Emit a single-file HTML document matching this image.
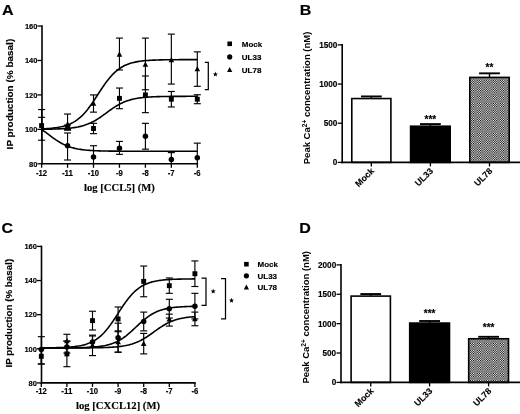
<!DOCTYPE html>
<html><head><meta charset="utf-8"><title>Figure</title>
<style>html,body{margin:0;padding:0;background:#fff;}svg{display:block;filter:blur(0.35px)}</style></head>
<body><svg width="520" height="414" viewBox="0 0 520 414">
<rect width="520" height="414" fill="#fff"/>
<line x1="42.00" y1="25.24" x2="42.00" y2="164.60" stroke="#000" stroke-width="1.6"/>
<line x1="41.20" y1="163.80" x2="198.10" y2="163.80" stroke="#000" stroke-width="1.6"/>
<line x1="37.50" y1="163.80" x2="42.00" y2="163.80" stroke="#000" stroke-width="1.3"/>
<text x="37.40" y="166.55" font-family="Liberation Sans, sans-serif" font-size="7.5" font-weight="bold" text-anchor="end" stroke="#000" stroke-width="0.15" >80</text>
<line x1="37.50" y1="129.36" x2="42.00" y2="129.36" stroke="#000" stroke-width="1.3"/>
<text x="37.40" y="132.11" font-family="Liberation Sans, sans-serif" font-size="7.5" font-weight="bold" text-anchor="end" stroke="#000" stroke-width="0.15" >100</text>
<line x1="37.50" y1="94.92" x2="42.00" y2="94.92" stroke="#000" stroke-width="1.3"/>
<text x="37.40" y="97.67" font-family="Liberation Sans, sans-serif" font-size="7.5" font-weight="bold" text-anchor="end" stroke="#000" stroke-width="0.15" >120</text>
<line x1="37.50" y1="60.48" x2="42.00" y2="60.48" stroke="#000" stroke-width="1.3"/>
<text x="37.40" y="63.23" font-family="Liberation Sans, sans-serif" font-size="7.5" font-weight="bold" text-anchor="end" stroke="#000" stroke-width="0.15" >140</text>
<line x1="37.50" y1="26.04" x2="42.00" y2="26.04" stroke="#000" stroke-width="1.3"/>
<text x="37.40" y="28.79" font-family="Liberation Sans, sans-serif" font-size="7.5" font-weight="bold" text-anchor="end" stroke="#000" stroke-width="0.15" >160</text>
<line x1="41.60" y1="163.80" x2="41.60" y2="167.80" stroke="#000" stroke-width="1.3"/>
<text x="41.50" y="175.80" font-family="Liberation Sans, sans-serif" font-size="8.3" font-weight="bold" text-anchor="middle" stroke="#000" stroke-width="0.15" textLength="11.13" lengthAdjust="spacingAndGlyphs">-12</text>
<line x1="67.55" y1="163.80" x2="67.55" y2="167.80" stroke="#000" stroke-width="1.3"/>
<text x="67.45" y="175.80" font-family="Liberation Sans, sans-serif" font-size="8.3" font-weight="bold" text-anchor="middle" stroke="#000" stroke-width="0.15" textLength="11.13" lengthAdjust="spacingAndGlyphs">-11</text>
<line x1="93.50" y1="163.80" x2="93.50" y2="167.80" stroke="#000" stroke-width="1.3"/>
<text x="93.40" y="175.80" font-family="Liberation Sans, sans-serif" font-size="8.3" font-weight="bold" text-anchor="middle" stroke="#000" stroke-width="0.15" textLength="11.13" lengthAdjust="spacingAndGlyphs">-10</text>
<line x1="119.45" y1="163.80" x2="119.45" y2="167.80" stroke="#000" stroke-width="1.3"/>
<text x="119.35" y="175.80" font-family="Liberation Sans, sans-serif" font-size="8.3" font-weight="bold" text-anchor="middle" stroke="#000" stroke-width="0.15" textLength="6.85" lengthAdjust="spacingAndGlyphs">-9</text>
<line x1="145.40" y1="163.80" x2="145.40" y2="167.80" stroke="#000" stroke-width="1.3"/>
<text x="145.30" y="175.80" font-family="Liberation Sans, sans-serif" font-size="8.3" font-weight="bold" text-anchor="middle" stroke="#000" stroke-width="0.15" textLength="6.85" lengthAdjust="spacingAndGlyphs">-8</text>
<line x1="171.35" y1="163.80" x2="171.35" y2="167.80" stroke="#000" stroke-width="1.3"/>
<text x="171.25" y="175.80" font-family="Liberation Sans, sans-serif" font-size="8.3" font-weight="bold" text-anchor="middle" stroke="#000" stroke-width="0.15" textLength="6.85" lengthAdjust="spacingAndGlyphs">-7</text>
<line x1="197.30" y1="163.80" x2="197.30" y2="167.80" stroke="#000" stroke-width="1.3"/>
<text x="197.20" y="175.80" font-family="Liberation Sans, sans-serif" font-size="8.3" font-weight="bold" text-anchor="middle" stroke="#000" stroke-width="0.15" textLength="6.85" lengthAdjust="spacingAndGlyphs">-6</text>
<text x="119.50" y="191.00" font-family="Liberation Serif, serif" font-size="11.2" font-weight="bold" text-anchor="middle" stroke="#000" stroke-width="0.15" textLength="70.8" lengthAdjust="spacingAndGlyphs">log [CCL5] (M)</text>
<text x="12.90" y="94.10" font-family="Liberation Sans, sans-serif" font-size="9.8" font-weight="bold" text-anchor="middle" transform="rotate(-90 12.90 94.10)" stroke="#000" stroke-width="0.15" textLength="110.6" lengthAdjust="spacingAndGlyphs">IP production (% basal)</text>
<text x="2.00" y="15.20" font-family="Liberation Sans, sans-serif" font-size="14.5" font-weight="bold" text-anchor="start" stroke="#000" stroke-width="0.15" textLength="11.6" lengthAdjust="spacingAndGlyphs">A</text>
<polyline points="41.60,129.26 42.90,129.24 44.19,129.23 45.49,129.21 46.79,129.20 48.09,129.18 49.39,129.15 50.68,129.13 51.98,129.10 53.28,129.07 54.58,129.03 55.87,128.99 57.17,128.95 58.47,128.90 59.76,128.84 61.06,128.78 62.36,128.71 63.66,128.64 64.96,128.55 66.25,128.45 67.55,128.35 68.85,128.23 70.14,128.09 71.44,127.95 72.74,127.78 74.04,127.60 75.34,127.40 76.63,127.17 77.93,126.93 79.23,126.65 80.53,126.35 81.82,126.02 83.12,125.66 84.42,125.27 85.71,124.84 87.01,124.37 88.31,123.86 89.61,123.31 90.91,122.72 92.20,122.09 93.50,121.42 94.80,120.70 96.09,119.95 97.39,119.15 98.69,118.32 99.99,117.46 101.29,116.57 102.58,115.66 103.88,114.72 105.18,113.78 106.47,112.83 107.77,111.88 109.07,110.93 110.37,110.00 111.66,109.09 112.96,108.20 114.26,107.34 115.56,106.51 116.86,105.71 118.15,104.96 119.45,104.24 120.75,103.57 122.04,102.94 123.34,102.35 124.64,101.80 125.94,101.29 127.24,100.82 128.53,100.39 129.83,99.99 131.13,99.63 132.43,99.30 133.72,99.00 135.02,98.73 136.32,98.48 137.61,98.26 138.91,98.06 140.21,97.88 141.51,97.71 142.81,97.56 144.10,97.43 145.40,97.31 146.70,97.20 147.99,97.11 149.29,97.02 150.59,96.94 151.89,96.88 153.19,96.81 154.48,96.76 155.78,96.71 157.08,96.66 158.38,96.62 159.67,96.59 160.97,96.56 162.27,96.53 163.56,96.50 164.86,96.48 166.16,96.46 167.46,96.44 168.75,96.43 170.05,96.41 171.35,96.40 172.65,96.39 173.94,96.38 175.24,96.37 176.54,96.36 177.84,96.36 179.13,96.35 180.43,96.34 181.73,96.34 183.03,96.33 184.32,96.33 185.62,96.33 186.92,96.32 188.22,96.32 189.51,96.32 190.81,96.32 192.11,96.31 193.41,96.31 194.71,96.31 196.00,96.31 197.30,96.31" fill="none" stroke="#000" stroke-width="1.6" stroke-linejoin="round"/>
<polyline points="41.60,129.41 42.90,130.32 44.19,131.27 45.49,132.23 46.79,133.20 48.09,134.18 49.39,135.16 50.68,136.14 51.98,137.10 53.28,138.04 54.58,138.96 55.87,139.85 57.17,140.70 58.47,141.52 59.76,142.30 61.06,143.04 62.36,143.73 63.66,144.38 64.96,144.99 66.25,145.56 67.55,146.08 68.85,146.56 70.14,147.01 71.44,147.42 72.74,147.79 74.04,148.13 75.34,148.44 76.63,148.72 77.93,148.98 79.23,149.21 80.53,149.41 81.82,149.60 83.12,149.77 84.42,149.92 85.71,150.06 87.01,150.18 88.31,150.29 89.61,150.39 90.91,150.48 92.20,150.56 93.50,150.63 94.80,150.70 96.09,150.75 97.39,150.81 98.69,150.85 99.99,150.89 101.29,150.93 102.58,150.96 103.88,150.99 105.18,151.02 106.47,151.04 107.77,151.06 109.07,151.08 110.37,151.09 111.66,151.11 112.96,151.12 114.26,151.13 115.56,151.14 116.86,151.15 118.15,151.16 119.45,151.17 120.75,151.18 122.04,151.18 123.34,151.19 124.64,151.19 125.94,151.20 127.24,151.20 128.53,151.20 129.83,151.21 131.13,151.21 132.43,151.21 133.72,151.21 135.02,151.21 136.32,151.22 137.61,151.22 138.91,151.22 140.21,151.22 141.51,151.22 142.81,151.22 144.10,151.22 145.40,151.22 146.70,151.22 147.99,151.22 149.29,151.23 150.59,151.23 151.89,151.23 153.19,151.23 154.48,151.23 155.78,151.23 157.08,151.23 158.38,151.23 159.67,151.23 160.97,151.23 162.27,151.23 163.56,151.23 164.86,151.23 166.16,151.23 167.46,151.23 168.75,151.23 170.05,151.23 171.35,151.23 172.65,151.23 173.94,151.23 175.24,151.23 176.54,151.23 177.84,151.23 179.13,151.23 180.43,151.23 181.73,151.23 183.03,151.23 184.32,151.23 185.62,151.23 186.92,151.23 188.22,151.23 189.51,151.23 190.81,151.23 192.11,151.23 193.41,151.23 194.71,151.23 196.00,151.23 197.30,151.23" fill="none" stroke="#000" stroke-width="1.6" stroke-linejoin="round"/>
<polyline points="41.60,128.89 42.90,128.83 44.19,128.77 45.49,128.70 46.79,128.62 48.09,128.53 49.39,128.43 50.68,128.32 51.98,128.20 53.28,128.06 54.58,127.90 55.87,127.73 57.17,127.53 58.47,127.32 59.76,127.07 61.06,126.81 62.36,126.51 63.66,126.17 64.96,125.81 66.25,125.40 67.55,124.94 68.85,124.44 70.14,123.89 71.44,123.28 72.74,122.61 74.04,121.88 75.34,121.07 76.63,120.19 77.93,119.24 79.23,118.20 80.53,117.08 81.82,115.87 83.12,114.57 84.42,113.18 85.71,111.71 87.01,110.15 88.31,108.51 89.61,106.78 90.91,104.99 92.20,103.14 93.50,101.23 94.80,99.28 96.09,97.29 97.39,95.29 98.69,93.29 99.99,91.29 101.29,89.31 102.58,87.36 103.88,85.47 105.18,83.62 106.47,81.84 107.77,80.14 109.07,78.51 110.37,76.97 111.66,75.51 112.96,74.14 114.26,72.86 115.56,71.67 116.86,70.57 118.15,69.55 119.45,68.61 120.75,67.74 122.04,66.95 123.34,66.23 124.64,65.57 125.94,64.97 127.24,64.43 128.53,63.94 129.83,63.50 131.13,63.10 132.43,62.74 133.72,62.41 135.02,62.12 136.32,61.85 137.61,61.62 138.91,61.41 140.21,61.22 141.51,61.05 142.81,60.89 144.10,60.76 145.40,60.64 146.70,60.53 147.99,60.43 149.29,60.34 150.59,60.26 151.89,60.19 153.19,60.13 154.48,60.08 155.78,60.03 157.08,59.98 158.38,59.94 159.67,59.91 160.97,59.88 162.27,59.85 163.56,59.82 164.86,59.80 166.16,59.78 167.46,59.76 168.75,59.75 170.05,59.73 171.35,59.72 172.65,59.71 173.94,59.70 175.24,59.69 176.54,59.68 177.84,59.68 179.13,59.67 180.43,59.67 181.73,59.66 183.03,59.66 184.32,59.65 185.62,59.65 186.92,59.64 188.22,59.64 189.51,59.64 190.81,59.64 192.11,59.64 193.41,59.63 194.71,59.63 196.00,59.63 197.30,59.63" fill="none" stroke="#000" stroke-width="1.6" stroke-linejoin="round"/>
<line x1="67.55" y1="114.03" x2="67.55" y2="129.36" stroke="#000" stroke-width="1.15"/>
<line x1="64.05" y1="114.03" x2="71.05" y2="114.03" stroke="#000" stroke-width="1.15"/>
<line x1="64.05" y1="129.36" x2="71.05" y2="129.36" stroke="#000" stroke-width="1.15"/>
<line x1="93.50" y1="94.92" x2="93.50" y2="112.14" stroke="#000" stroke-width="1.15"/>
<line x1="90.00" y1="94.92" x2="97.00" y2="94.92" stroke="#000" stroke-width="1.15"/>
<line x1="90.00" y1="112.14" x2="97.00" y2="112.14" stroke="#000" stroke-width="1.15"/>
<line x1="119.45" y1="38.09" x2="119.45" y2="69.95" stroke="#000" stroke-width="1.15"/>
<line x1="115.95" y1="38.09" x2="122.95" y2="38.09" stroke="#000" stroke-width="1.15"/>
<line x1="115.95" y1="69.95" x2="122.95" y2="69.95" stroke="#000" stroke-width="1.15"/>
<line x1="145.40" y1="38.09" x2="145.40" y2="89.75" stroke="#000" stroke-width="1.15"/>
<line x1="141.90" y1="38.09" x2="148.90" y2="38.09" stroke="#000" stroke-width="1.15"/>
<line x1="141.90" y1="89.75" x2="148.90" y2="89.75" stroke="#000" stroke-width="1.15"/>
<line x1="171.35" y1="34.13" x2="171.35" y2="84.07" stroke="#000" stroke-width="1.15"/>
<line x1="167.85" y1="34.13" x2="174.85" y2="34.13" stroke="#000" stroke-width="1.15"/>
<line x1="167.85" y1="84.07" x2="174.85" y2="84.07" stroke="#000" stroke-width="1.15"/>
<line x1="197.30" y1="51.87" x2="197.30" y2="86.31" stroke="#000" stroke-width="1.15"/>
<line x1="193.80" y1="51.87" x2="200.80" y2="51.87" stroke="#000" stroke-width="1.15"/>
<line x1="193.80" y1="86.31" x2="200.80" y2="86.31" stroke="#000" stroke-width="1.15"/>
<polygon points="67.55,121.04 64.80,126.44 70.30,126.44" fill="#000"/>
<polygon points="93.50,100.38 90.75,105.78 96.25,105.78" fill="#000"/>
<polygon points="119.45,51.30 116.70,56.70 122.20,56.70" fill="#000"/>
<polygon points="145.40,61.46 142.65,66.86 148.15,66.86" fill="#000"/>
<polygon points="171.35,56.81 168.60,62.21 174.10,62.21" fill="#000"/>
<polygon points="197.30,65.94 194.55,71.34 200.05,71.34" fill="#000"/>
<line x1="67.55" y1="132.98" x2="67.55" y2="160.01" stroke="#000" stroke-width="1.15"/>
<line x1="64.05" y1="132.98" x2="71.05" y2="132.98" stroke="#000" stroke-width="1.15"/>
<line x1="64.05" y1="160.01" x2="71.05" y2="160.01" stroke="#000" stroke-width="1.15"/>
<line x1="93.50" y1="145.72" x2="93.50" y2="163.80" stroke="#000" stroke-width="1.15"/>
<line x1="90.00" y1="145.72" x2="97.00" y2="145.72" stroke="#000" stroke-width="1.15"/>
<line x1="119.45" y1="141.41" x2="119.45" y2="154.33" stroke="#000" stroke-width="1.15"/>
<line x1="115.95" y1="141.41" x2="122.95" y2="141.41" stroke="#000" stroke-width="1.15"/>
<line x1="115.95" y1="154.33" x2="122.95" y2="154.33" stroke="#000" stroke-width="1.15"/>
<line x1="145.40" y1="123.33" x2="145.40" y2="149.16" stroke="#000" stroke-width="1.15"/>
<line x1="141.90" y1="123.33" x2="148.90" y2="123.33" stroke="#000" stroke-width="1.15"/>
<line x1="141.90" y1="149.16" x2="148.90" y2="149.16" stroke="#000" stroke-width="1.15"/>
<line x1="171.35" y1="152.61" x2="171.35" y2="163.80" stroke="#000" stroke-width="1.15"/>
<line x1="167.85" y1="152.61" x2="174.85" y2="152.61" stroke="#000" stroke-width="1.15"/>
<line x1="197.30" y1="143.14" x2="197.30" y2="163.80" stroke="#000" stroke-width="1.15"/>
<line x1="193.80" y1="143.14" x2="200.80" y2="143.14" stroke="#000" stroke-width="1.15"/>
<circle cx="67.55" cy="145.72" r="2.75" fill="#000"/>
<circle cx="93.50" cy="156.91" r="2.75" fill="#000"/>
<circle cx="119.45" cy="148.30" r="2.75" fill="#000"/>
<circle cx="145.40" cy="136.25" r="2.75" fill="#000"/>
<circle cx="171.35" cy="159.50" r="2.75" fill="#000"/>
<circle cx="197.30" cy="157.77" r="2.75" fill="#000"/>
<line x1="41.60" y1="109.56" x2="41.60" y2="140.21" stroke="#000" stroke-width="1.15"/>
<line x1="38.10" y1="109.56" x2="45.10" y2="109.56" stroke="#000" stroke-width="1.15"/>
<line x1="38.10" y1="140.21" x2="45.10" y2="140.21" stroke="#000" stroke-width="1.15"/>
<line x1="67.55" y1="125.06" x2="67.55" y2="130.22" stroke="#000" stroke-width="1.15"/>
<line x1="64.05" y1="125.06" x2="71.05" y2="125.06" stroke="#000" stroke-width="1.15"/>
<line x1="64.05" y1="130.22" x2="71.05" y2="130.22" stroke="#000" stroke-width="1.15"/>
<line x1="93.50" y1="123.33" x2="93.50" y2="133.67" stroke="#000" stroke-width="1.15"/>
<line x1="90.00" y1="123.33" x2="97.00" y2="123.33" stroke="#000" stroke-width="1.15"/>
<line x1="90.00" y1="133.67" x2="97.00" y2="133.67" stroke="#000" stroke-width="1.15"/>
<line x1="119.45" y1="88.03" x2="119.45" y2="108.70" stroke="#000" stroke-width="1.15"/>
<line x1="115.95" y1="88.03" x2="122.95" y2="88.03" stroke="#000" stroke-width="1.15"/>
<line x1="115.95" y1="108.70" x2="122.95" y2="108.70" stroke="#000" stroke-width="1.15"/>
<line x1="145.40" y1="75.98" x2="145.40" y2="112.66" stroke="#000" stroke-width="1.15"/>
<line x1="141.90" y1="75.98" x2="148.90" y2="75.98" stroke="#000" stroke-width="1.15"/>
<line x1="141.90" y1="112.66" x2="148.90" y2="112.66" stroke="#000" stroke-width="1.15"/>
<line x1="171.35" y1="91.48" x2="171.35" y2="106.97" stroke="#000" stroke-width="1.15"/>
<line x1="167.85" y1="91.48" x2="174.85" y2="91.48" stroke="#000" stroke-width="1.15"/>
<line x1="167.85" y1="106.97" x2="174.85" y2="106.97" stroke="#000" stroke-width="1.15"/>
<line x1="197.30" y1="94.75" x2="197.30" y2="103.70" stroke="#000" stroke-width="1.15"/>
<line x1="193.80" y1="94.75" x2="200.80" y2="94.75" stroke="#000" stroke-width="1.15"/>
<line x1="193.80" y1="103.70" x2="200.80" y2="103.70" stroke="#000" stroke-width="1.15"/>
<rect x="39.15" y="123.12" width="4.90" height="4.90" fill="#000"/>
<rect x="65.10" y="125.19" width="4.90" height="4.90" fill="#000"/>
<rect x="91.05" y="126.05" width="4.90" height="4.90" fill="#000"/>
<rect x="117.00" y="95.91" width="4.90" height="4.90" fill="#000"/>
<rect x="142.95" y="92.47" width="4.90" height="4.90" fill="#000"/>
<rect x="168.90" y="96.78" width="4.90" height="4.90" fill="#000"/>
<rect x="194.85" y="96.78" width="4.90" height="4.90" fill="#000"/>
<line x1="38.10" y1="117.31" x2="45.10" y2="117.31" stroke="#000" stroke-width="1.15"/>
<rect x="227.40" y="41.50" width="4.60" height="4.60" fill="#000"/>
<text x="241.80" y="46.70" font-family="Liberation Sans, sans-serif" font-size="8" font-weight="bold" text-anchor="start" stroke="#000" stroke-width="0.15" >Mock</text>
<circle cx="229.70" cy="56.90" r="2.60" fill="#000"/>
<text x="241.80" y="59.80" font-family="Liberation Sans, sans-serif" font-size="8" font-weight="bold" text-anchor="start" stroke="#000" stroke-width="0.15" >UL33</text>
<polygon points="229.70,67.00 227.10,72.10 232.30,72.10" fill="#000"/>
<text x="241.80" y="72.90" font-family="Liberation Sans, sans-serif" font-size="8" font-weight="bold" text-anchor="start" stroke="#000" stroke-width="0.15" >UL78</text>
<polyline points="204.8,62.3 208.3,62.3 208.3,89.7 204.8,89.7" fill="none" stroke="#000" stroke-width="1.25"/>
<polygon points="215.40,71.60 216.07,73.38 217.97,73.47 216.48,74.65 216.99,76.48 215.40,75.43 213.81,76.48 214.32,74.65 212.83,73.47 214.73,73.38" fill="#000"/>
<line x1="41.50" y1="245.62" x2="41.50" y2="383.70" stroke="#000" stroke-width="1.6"/>
<line x1="40.70" y1="382.90" x2="195.70" y2="382.90" stroke="#000" stroke-width="1.6"/>
<line x1="37.00" y1="382.90" x2="41.50" y2="382.90" stroke="#000" stroke-width="1.3"/>
<text x="36.90" y="385.65" font-family="Liberation Sans, sans-serif" font-size="7.5" font-weight="bold" text-anchor="end" stroke="#000" stroke-width="0.15" >80</text>
<line x1="37.00" y1="348.78" x2="41.50" y2="348.78" stroke="#000" stroke-width="1.3"/>
<text x="36.90" y="351.53" font-family="Liberation Sans, sans-serif" font-size="7.5" font-weight="bold" text-anchor="end" stroke="#000" stroke-width="0.15" >100</text>
<line x1="37.00" y1="314.66" x2="41.50" y2="314.66" stroke="#000" stroke-width="1.3"/>
<text x="36.90" y="317.41" font-family="Liberation Sans, sans-serif" font-size="7.5" font-weight="bold" text-anchor="end" stroke="#000" stroke-width="0.15" >120</text>
<line x1="37.00" y1="280.54" x2="41.50" y2="280.54" stroke="#000" stroke-width="1.3"/>
<text x="36.90" y="283.29" font-family="Liberation Sans, sans-serif" font-size="7.5" font-weight="bold" text-anchor="end" stroke="#000" stroke-width="0.15" >140</text>
<line x1="37.00" y1="246.42" x2="41.50" y2="246.42" stroke="#000" stroke-width="1.3"/>
<text x="36.90" y="249.17" font-family="Liberation Sans, sans-serif" font-size="7.5" font-weight="bold" text-anchor="end" stroke="#000" stroke-width="0.15" >160</text>
<line x1="41.30" y1="382.90" x2="41.30" y2="386.90" stroke="#000" stroke-width="1.3"/>
<text x="41.20" y="393.80" font-family="Liberation Sans, sans-serif" font-size="8.3" font-weight="bold" text-anchor="middle" stroke="#000" stroke-width="0.15" textLength="11.13" lengthAdjust="spacingAndGlyphs">-12</text>
<line x1="66.90" y1="382.90" x2="66.90" y2="386.90" stroke="#000" stroke-width="1.3"/>
<text x="66.80" y="393.80" font-family="Liberation Sans, sans-serif" font-size="8.3" font-weight="bold" text-anchor="middle" stroke="#000" stroke-width="0.15" textLength="11.13" lengthAdjust="spacingAndGlyphs">-11</text>
<line x1="92.50" y1="382.90" x2="92.50" y2="386.90" stroke="#000" stroke-width="1.3"/>
<text x="92.40" y="393.80" font-family="Liberation Sans, sans-serif" font-size="8.3" font-weight="bold" text-anchor="middle" stroke="#000" stroke-width="0.15" textLength="11.13" lengthAdjust="spacingAndGlyphs">-10</text>
<line x1="118.10" y1="382.90" x2="118.10" y2="386.90" stroke="#000" stroke-width="1.3"/>
<text x="118.00" y="393.80" font-family="Liberation Sans, sans-serif" font-size="8.3" font-weight="bold" text-anchor="middle" stroke="#000" stroke-width="0.15" textLength="6.85" lengthAdjust="spacingAndGlyphs">-9</text>
<line x1="143.70" y1="382.90" x2="143.70" y2="386.90" stroke="#000" stroke-width="1.3"/>
<text x="143.60" y="393.80" font-family="Liberation Sans, sans-serif" font-size="8.3" font-weight="bold" text-anchor="middle" stroke="#000" stroke-width="0.15" textLength="6.85" lengthAdjust="spacingAndGlyphs">-8</text>
<line x1="169.30" y1="382.90" x2="169.30" y2="386.90" stroke="#000" stroke-width="1.3"/>
<text x="169.20" y="393.80" font-family="Liberation Sans, sans-serif" font-size="8.3" font-weight="bold" text-anchor="middle" stroke="#000" stroke-width="0.15" textLength="6.85" lengthAdjust="spacingAndGlyphs">-7</text>
<line x1="194.90" y1="382.90" x2="194.90" y2="386.90" stroke="#000" stroke-width="1.3"/>
<text x="194.80" y="393.80" font-family="Liberation Sans, sans-serif" font-size="8.3" font-weight="bold" text-anchor="middle" stroke="#000" stroke-width="0.15" textLength="6.85" lengthAdjust="spacingAndGlyphs">-6</text>
<text x="118.00" y="409.00" font-family="Liberation Serif, serif" font-size="11.2" font-weight="bold" text-anchor="middle" stroke="#000" stroke-width="0.15" textLength="84" lengthAdjust="spacingAndGlyphs">log [CXCL12] (M)</text>
<text x="12.50" y="313.20" font-family="Liberation Sans, sans-serif" font-size="9.8" font-weight="bold" text-anchor="middle" transform="rotate(-90 12.50 313.20)" stroke="#000" stroke-width="0.15" textLength="108.7" lengthAdjust="spacingAndGlyphs">IP production (% basal)</text>
<text x="1.60" y="233.20" font-family="Liberation Sans, sans-serif" font-size="14.5" font-weight="bold" text-anchor="start" stroke="#000" stroke-width="0.15" textLength="11.6" lengthAdjust="spacingAndGlyphs">C</text>
<polyline points="41.30,347.86 42.58,347.85 43.86,347.84 45.14,347.83 46.42,347.82 47.70,347.80 48.98,347.79 50.26,347.77 51.54,347.75 52.82,347.73 54.10,347.71 55.38,347.68 56.66,347.65 57.94,347.62 59.22,347.58 60.50,347.54 61.78,347.49 63.06,347.44 64.34,347.38 65.62,347.32 66.90,347.24 68.18,347.16 69.46,347.07 70.74,346.96 72.02,346.85 73.30,346.72 74.58,346.58 75.86,346.41 77.14,346.23 78.42,346.03 79.70,345.81 80.98,345.56 82.26,345.28 83.54,344.97 84.82,344.63 86.10,344.25 87.38,343.83 88.66,343.36 89.94,342.84 91.22,342.27 92.50,341.65 93.78,340.96 95.06,340.20 96.34,339.38 97.62,338.47 98.90,337.50 100.18,336.43 101.46,335.29 102.74,334.06 104.02,332.74 105.30,331.33 106.58,329.83 107.86,328.25 109.14,326.59 110.42,324.86 111.70,323.06 112.98,321.20 114.26,319.29 115.54,317.34 116.82,315.37 118.10,313.38 119.38,311.39 120.66,309.42 121.94,307.47 123.22,305.56 124.50,303.70 125.78,301.90 127.06,300.17 128.34,298.51 129.62,296.93 130.90,295.43 132.18,294.03 133.46,292.71 134.74,291.47 136.02,290.33 137.30,289.27 138.58,288.29 139.86,287.39 141.14,286.56 142.42,285.80 143.70,285.12 144.98,284.49 146.26,283.92 147.54,283.40 148.82,282.93 150.10,282.51 151.38,282.13 152.66,281.79 153.94,281.48 155.22,281.20 156.50,280.95 157.78,280.73 159.06,280.53 160.34,280.35 161.62,280.19 162.90,280.04 164.18,279.91 165.46,279.80 166.74,279.69 168.02,279.60 169.30,279.52 170.58,279.44 171.86,279.38 173.14,279.32 174.42,279.27 175.70,279.22 176.98,279.18 178.26,279.14 179.54,279.11 180.82,279.08 182.10,279.05 183.38,279.03 184.66,279.01 185.94,278.99 187.22,278.97 188.50,278.96 189.78,278.94 191.06,278.93 192.34,278.92 193.62,278.91 194.90,278.90" fill="none" stroke="#000" stroke-width="1.6" stroke-linejoin="round"/>
<polyline points="41.30,347.92 42.58,347.92 43.86,347.92 45.14,347.92 46.42,347.91 47.70,347.91 48.98,347.91 50.26,347.91 51.54,347.91 52.82,347.90 54.10,347.90 55.38,347.90 56.66,347.89 57.94,347.89 59.22,347.89 60.50,347.88 61.78,347.87 63.06,347.87 64.34,347.86 65.62,347.85 66.90,347.84 68.18,347.83 69.46,347.82 70.74,347.81 72.02,347.80 73.30,347.78 74.58,347.76 75.86,347.74 77.14,347.72 78.42,347.69 79.70,347.66 80.98,347.63 82.26,347.60 83.54,347.56 84.82,347.51 86.10,347.46 87.38,347.41 88.66,347.34 89.94,347.27 91.22,347.20 92.50,347.11 93.78,347.01 95.06,346.90 96.34,346.78 97.62,346.65 98.90,346.49 100.18,346.33 101.46,346.14 102.74,345.93 104.02,345.70 105.30,345.45 106.58,345.16 107.86,344.85 109.14,344.51 110.42,344.13 111.70,343.71 112.98,343.25 114.26,342.75 115.54,342.21 116.82,341.62 118.10,340.97 119.38,340.28 120.66,339.54 121.94,338.74 123.22,337.89 124.50,336.98 125.78,336.03 127.06,335.02 128.34,333.97 129.62,332.88 130.90,331.76 132.18,330.60 133.46,329.42 134.74,328.23 136.02,327.03 137.30,325.83 138.58,324.63 139.86,323.45 141.14,322.30 142.42,321.17 143.70,320.08 144.98,319.04 146.26,318.03 147.54,317.08 148.82,316.17 150.10,315.32 151.38,314.52 152.66,313.78 153.94,313.08 155.22,312.44 156.50,311.85 157.78,311.30 159.06,310.80 160.34,310.35 161.62,309.93 162.90,309.55 164.18,309.21 165.46,308.89 166.74,308.61 168.02,308.36 169.30,308.12 170.58,307.92 171.86,307.73 173.14,307.56 174.42,307.41 175.70,307.28 176.98,307.15 178.26,307.05 179.54,306.95 180.82,306.86 182.10,306.78 183.38,306.71 184.66,306.65 185.94,306.59 187.22,306.54 188.50,306.50 189.78,306.46 191.06,306.42 192.34,306.39 193.62,306.36 194.90,306.34" fill="none" stroke="#000" stroke-width="1.6" stroke-linejoin="round"/>
<polyline points="41.30,347.93 42.58,347.93 43.86,347.93 45.14,347.93 46.42,347.92 47.70,347.92 48.98,347.92 50.26,347.92 51.54,347.92 52.82,347.92 54.10,347.92 55.38,347.92 56.66,347.92 57.94,347.92 59.22,347.92 60.50,347.92 61.78,347.92 63.06,347.92 64.34,347.92 65.62,347.92 66.90,347.91 68.18,347.91 69.46,347.91 70.74,347.91 72.02,347.91 73.30,347.90 74.58,347.90 75.86,347.90 77.14,347.89 78.42,347.89 79.70,347.89 80.98,347.88 82.26,347.88 83.54,347.87 84.82,347.86 86.10,347.86 87.38,347.85 88.66,347.84 89.94,347.83 91.22,347.81 92.50,347.80 93.78,347.78 95.06,347.77 96.34,347.75 97.62,347.73 98.90,347.70 100.18,347.67 101.46,347.64 102.74,347.61 104.02,347.57 105.30,347.53 106.58,347.48 107.86,347.43 109.14,347.37 110.42,347.30 111.70,347.22 112.98,347.14 114.26,347.05 115.54,346.94 116.82,346.83 118.10,346.70 119.38,346.56 120.66,346.40 121.94,346.22 123.22,346.02 124.50,345.81 125.78,345.57 127.06,345.30 128.34,345.01 129.62,344.69 130.90,344.34 132.18,343.96 133.46,343.54 134.74,343.08 136.02,342.59 137.30,342.06 138.58,341.49 139.86,340.88 141.14,340.22 142.42,339.53 143.70,338.79 144.98,338.02 146.26,337.22 147.54,336.38 148.82,335.52 150.10,334.63 151.38,333.73 152.66,332.81 153.94,331.89 155.22,330.97 156.50,330.05 157.78,329.15 159.06,328.26 160.34,327.40 161.62,326.56 162.90,325.76 164.18,324.99 165.46,324.25 166.74,323.56 168.02,322.91 169.30,322.29 170.58,321.72 171.86,321.19 173.14,320.70 174.42,320.24 175.70,319.82 176.98,319.44 178.26,319.09 179.54,318.77 180.82,318.48 182.10,318.21 183.38,317.97 184.66,317.76 185.94,317.56 187.22,317.38 188.50,317.23 189.78,317.08 191.06,316.95 192.34,316.84 193.62,316.73 194.90,316.64" fill="none" stroke="#000" stroke-width="1.6" stroke-linejoin="round"/>
<line x1="66.90" y1="334.28" x2="66.90" y2="347.93" stroke="#000" stroke-width="1.15"/>
<line x1="63.40" y1="334.28" x2="70.40" y2="334.28" stroke="#000" stroke-width="1.15"/>
<line x1="63.40" y1="347.93" x2="70.40" y2="347.93" stroke="#000" stroke-width="1.15"/>
<line x1="92.50" y1="335.13" x2="92.50" y2="355.60" stroke="#000" stroke-width="1.15"/>
<line x1="89.00" y1="335.13" x2="96.00" y2="335.13" stroke="#000" stroke-width="1.15"/>
<line x1="89.00" y1="355.60" x2="96.00" y2="355.60" stroke="#000" stroke-width="1.15"/>
<line x1="118.10" y1="331.72" x2="118.10" y2="352.19" stroke="#000" stroke-width="1.15"/>
<line x1="114.60" y1="331.72" x2="121.60" y2="331.72" stroke="#000" stroke-width="1.15"/>
<line x1="114.60" y1="352.19" x2="121.60" y2="352.19" stroke="#000" stroke-width="1.15"/>
<line x1="143.70" y1="333.43" x2="143.70" y2="353.90" stroke="#000" stroke-width="1.15"/>
<line x1="140.20" y1="333.43" x2="147.20" y2="333.43" stroke="#000" stroke-width="1.15"/>
<line x1="140.20" y1="353.90" x2="147.20" y2="353.90" stroke="#000" stroke-width="1.15"/>
<line x1="169.30" y1="314.15" x2="169.30" y2="326.09" stroke="#000" stroke-width="1.15"/>
<line x1="165.80" y1="314.15" x2="172.80" y2="314.15" stroke="#000" stroke-width="1.15"/>
<line x1="165.80" y1="326.09" x2="172.80" y2="326.09" stroke="#000" stroke-width="1.15"/>
<line x1="194.90" y1="312.10" x2="194.90" y2="325.75" stroke="#000" stroke-width="1.15"/>
<line x1="191.40" y1="312.10" x2="198.40" y2="312.10" stroke="#000" stroke-width="1.15"/>
<line x1="191.40" y1="325.75" x2="198.40" y2="325.75" stroke="#000" stroke-width="1.15"/>
<polygon points="66.90,337.95 64.15,343.35 69.65,343.35" fill="#000"/>
<polygon points="92.50,342.22 89.75,347.62 95.25,347.62" fill="#000"/>
<polygon points="118.10,338.81 115.35,344.21 120.85,344.21" fill="#000"/>
<polygon points="143.70,340.51 140.95,345.91 146.45,345.91" fill="#000"/>
<polygon points="169.30,316.12 166.55,321.52 172.05,321.52" fill="#000"/>
<polygon points="194.90,315.77 192.15,321.17 197.65,321.17" fill="#000"/>
<line x1="41.30" y1="336.67" x2="41.30" y2="363.96" stroke="#000" stroke-width="1.15"/>
<line x1="37.80" y1="336.67" x2="44.80" y2="336.67" stroke="#000" stroke-width="1.15"/>
<line x1="37.80" y1="363.96" x2="44.80" y2="363.96" stroke="#000" stroke-width="1.15"/>
<line x1="66.90" y1="341.10" x2="66.90" y2="353.04" stroke="#000" stroke-width="1.15"/>
<line x1="63.40" y1="341.10" x2="70.40" y2="341.10" stroke="#000" stroke-width="1.15"/>
<line x1="63.40" y1="353.04" x2="70.40" y2="353.04" stroke="#000" stroke-width="1.15"/>
<line x1="92.50" y1="335.98" x2="92.50" y2="347.07" stroke="#000" stroke-width="1.15"/>
<line x1="89.00" y1="335.98" x2="96.00" y2="335.98" stroke="#000" stroke-width="1.15"/>
<line x1="89.00" y1="347.07" x2="96.00" y2="347.07" stroke="#000" stroke-width="1.15"/>
<line x1="118.10" y1="323.19" x2="118.10" y2="352.19" stroke="#000" stroke-width="1.15"/>
<line x1="114.60" y1="323.19" x2="121.60" y2="323.19" stroke="#000" stroke-width="1.15"/>
<line x1="114.60" y1="352.19" x2="121.60" y2="352.19" stroke="#000" stroke-width="1.15"/>
<line x1="143.70" y1="312.10" x2="143.70" y2="330.87" stroke="#000" stroke-width="1.15"/>
<line x1="140.20" y1="312.10" x2="147.20" y2="312.10" stroke="#000" stroke-width="1.15"/>
<line x1="140.20" y1="330.87" x2="147.20" y2="330.87" stroke="#000" stroke-width="1.15"/>
<line x1="169.30" y1="299.31" x2="169.30" y2="318.07" stroke="#000" stroke-width="1.15"/>
<line x1="165.80" y1="299.31" x2="172.80" y2="299.31" stroke="#000" stroke-width="1.15"/>
<line x1="165.80" y1="318.07" x2="172.80" y2="318.07" stroke="#000" stroke-width="1.15"/>
<line x1="194.90" y1="293.33" x2="194.90" y2="318.92" stroke="#000" stroke-width="1.15"/>
<line x1="191.40" y1="293.33" x2="198.40" y2="293.33" stroke="#000" stroke-width="1.15"/>
<line x1="191.40" y1="318.92" x2="198.40" y2="318.92" stroke="#000" stroke-width="1.15"/>
<circle cx="41.30" cy="349.46" r="2.75" fill="#000"/>
<circle cx="66.90" cy="347.07" r="2.75" fill="#000"/>
<circle cx="92.50" cy="341.96" r="2.75" fill="#000"/>
<circle cx="118.10" cy="337.69" r="2.75" fill="#000"/>
<circle cx="143.70" cy="321.48" r="2.75" fill="#000"/>
<circle cx="169.30" cy="308.69" r="2.75" fill="#000"/>
<circle cx="194.90" cy="306.13" r="2.75" fill="#000"/>
<line x1="41.30" y1="348.61" x2="41.30" y2="363.96" stroke="#000" stroke-width="1.15"/>
<line x1="37.80" y1="348.61" x2="44.80" y2="348.61" stroke="#000" stroke-width="1.15"/>
<line x1="37.80" y1="363.96" x2="44.80" y2="363.96" stroke="#000" stroke-width="1.15"/>
<line x1="66.90" y1="341.10" x2="66.90" y2="366.69" stroke="#000" stroke-width="1.15"/>
<line x1="63.40" y1="341.10" x2="70.40" y2="341.10" stroke="#000" stroke-width="1.15"/>
<line x1="63.40" y1="366.69" x2="70.40" y2="366.69" stroke="#000" stroke-width="1.15"/>
<line x1="92.50" y1="311.25" x2="92.50" y2="330.01" stroke="#000" stroke-width="1.15"/>
<line x1="89.00" y1="311.25" x2="96.00" y2="311.25" stroke="#000" stroke-width="1.15"/>
<line x1="89.00" y1="330.01" x2="96.00" y2="330.01" stroke="#000" stroke-width="1.15"/>
<line x1="118.10" y1="306.98" x2="118.10" y2="330.87" stroke="#000" stroke-width="1.15"/>
<line x1="114.60" y1="306.98" x2="121.60" y2="306.98" stroke="#000" stroke-width="1.15"/>
<line x1="114.60" y1="330.87" x2="121.60" y2="330.87" stroke="#000" stroke-width="1.15"/>
<line x1="143.70" y1="266.04" x2="143.70" y2="296.75" stroke="#000" stroke-width="1.15"/>
<line x1="140.20" y1="266.04" x2="147.20" y2="266.04" stroke="#000" stroke-width="1.15"/>
<line x1="140.20" y1="296.75" x2="147.20" y2="296.75" stroke="#000" stroke-width="1.15"/>
<line x1="169.30" y1="277.98" x2="169.30" y2="293.33" stroke="#000" stroke-width="1.15"/>
<line x1="165.80" y1="277.98" x2="172.80" y2="277.98" stroke="#000" stroke-width="1.15"/>
<line x1="165.80" y1="293.33" x2="172.80" y2="293.33" stroke="#000" stroke-width="1.15"/>
<line x1="194.90" y1="260.92" x2="194.90" y2="286.51" stroke="#000" stroke-width="1.15"/>
<line x1="191.40" y1="260.92" x2="198.40" y2="260.92" stroke="#000" stroke-width="1.15"/>
<line x1="191.40" y1="286.51" x2="198.40" y2="286.51" stroke="#000" stroke-width="1.15"/>
<rect x="38.85" y="353.84" width="4.90" height="4.90" fill="#000"/>
<rect x="64.45" y="351.45" width="4.90" height="4.90" fill="#000"/>
<rect x="90.05" y="318.18" width="4.90" height="4.90" fill="#000"/>
<rect x="115.65" y="316.47" width="4.90" height="4.90" fill="#000"/>
<rect x="141.25" y="278.94" width="4.90" height="4.90" fill="#000"/>
<rect x="166.85" y="283.21" width="4.90" height="4.90" fill="#000"/>
<rect x="192.45" y="271.27" width="4.90" height="4.90" fill="#000"/>
<rect x="244.10" y="261.90" width="4.60" height="4.60" fill="#000"/>
<text x="257.50" y="267.10" font-family="Liberation Sans, sans-serif" font-size="8" font-weight="bold" text-anchor="start" stroke="#000" stroke-width="0.15" >Mock</text>
<circle cx="246.40" cy="275.80" r="2.60" fill="#000"/>
<text x="257.50" y="278.70" font-family="Liberation Sans, sans-serif" font-size="8" font-weight="bold" text-anchor="start" stroke="#000" stroke-width="0.15" >UL33</text>
<polygon points="246.40,284.40 243.80,289.50 249.00,289.50" fill="#000"/>
<text x="257.50" y="290.30" font-family="Liberation Sans, sans-serif" font-size="8" font-weight="bold" text-anchor="start" stroke="#000" stroke-width="0.15" >UL78</text>
<polyline points="201.5,278.2 206,278.2 206,305.3 201.5,305.3" fill="none" stroke="#000" stroke-width="1.25"/>
<polygon points="213.20,288.60 213.87,290.38 215.77,290.47 214.28,291.65 214.79,293.48 213.20,292.43 211.61,293.48 212.12,291.65 210.63,290.47 212.53,290.38" fill="#000"/>
<polyline points="221,278.5 225.5,278.5 225.5,318.8 221,318.8" fill="none" stroke="#000" stroke-width="1.25"/>
<polygon points="231.50,297.80 232.17,299.58 234.07,299.67 232.58,300.85 233.09,302.68 231.50,301.63 229.91,302.68 230.42,300.85 228.93,299.67 230.83,299.58" fill="#000"/>
<defs><pattern id="chk" width="2.308" height="2.308" patternUnits="userSpaceOnUse"><rect width="2.308" height="2.308" fill="#fff"/><rect width="1.154" height="1.154" fill="#000"/><rect x="1.154" y="1.154" width="1.154" height="1.154" fill="#000"/></pattern></defs>
<line x1="371.35" y1="98.56" x2="371.35" y2="96.44" stroke="#000" stroke-width="1.4"/>
<line x1="360.95" y1="96.44" x2="381.75" y2="96.44" stroke="#000" stroke-width="1.9"/>
<rect x="351.80" y="98.56" width="39.10" height="63.84" fill="#fff" stroke="#000" stroke-width="1.6"/>
<line x1="430.40" y1="126.21" x2="430.40" y2="124.09" stroke="#000" stroke-width="1.4"/>
<line x1="420.00" y1="124.09" x2="440.80" y2="124.09" stroke="#000" stroke-width="1.9"/>
<rect x="410.60" y="126.21" width="39.60" height="36.19" fill="#000" stroke="#000" stroke-width="1.6"/>
<text x="430.40" y="122.80" font-family="Liberation Sans, sans-serif" font-size="10" font-weight="bold" text-anchor="middle" stroke="#000" stroke-width="0.15" >***</text>
<line x1="489.50" y1="77.41" x2="489.50" y2="73.34" stroke="#000" stroke-width="1.4"/>
<line x1="479.10" y1="73.34" x2="499.90" y2="73.34" stroke="#000" stroke-width="1.9"/>
<rect x="469.80" y="77.41" width="39.40" height="84.99" fill="url(#chk)" stroke="#000" stroke-width="1.6"/>
<text x="489.50" y="70.90" font-family="Liberation Sans, sans-serif" font-size="10" font-weight="bold" text-anchor="middle" stroke="#000" stroke-width="0.15" >**</text>
<line x1="342.20" y1="44.10" x2="342.20" y2="163.20" stroke="#000" stroke-width="1.6"/>
<line x1="341.40" y1="162.40" x2="520.00" y2="162.40" stroke="#000" stroke-width="1.6"/>
<line x1="337.70" y1="162.40" x2="342.20" y2="162.40" stroke="#000" stroke-width="1.3"/>
<text x="337.40" y="165.35" font-family="Liberation Sans, sans-serif" font-size="8.2" font-weight="bold" text-anchor="end" stroke="#000" stroke-width="0.15" >0</text>
<line x1="337.70" y1="123.23" x2="342.20" y2="123.23" stroke="#000" stroke-width="1.3"/>
<text x="337.40" y="126.18" font-family="Liberation Sans, sans-serif" font-size="8.2" font-weight="bold" text-anchor="end" stroke="#000" stroke-width="0.15" >500</text>
<line x1="337.70" y1="84.07" x2="342.20" y2="84.07" stroke="#000" stroke-width="1.3"/>
<text x="337.40" y="87.02" font-family="Liberation Sans, sans-serif" font-size="8.2" font-weight="bold" text-anchor="end" stroke="#000" stroke-width="0.15" >1000</text>
<line x1="337.70" y1="44.90" x2="342.20" y2="44.90" stroke="#000" stroke-width="1.3"/>
<text x="337.40" y="47.85" font-family="Liberation Sans, sans-serif" font-size="8.2" font-weight="bold" text-anchor="end" stroke="#000" stroke-width="0.15" >1500</text>
<line x1="371.35" y1="162.40" x2="371.35" y2="166.40" stroke="#000" stroke-width="1.3"/>
<text x="374.75" y="171.60" font-family="Liberation Sans, sans-serif" font-size="8.8" font-weight="bold" text-anchor="end" transform="rotate(-45 374.75 171.60)" stroke="#000" stroke-width="0.15" >Mock</text>
<line x1="430.40" y1="162.40" x2="430.40" y2="166.40" stroke="#000" stroke-width="1.3"/>
<text x="433.80" y="171.60" font-family="Liberation Sans, sans-serif" font-size="8.8" font-weight="bold" text-anchor="end" transform="rotate(-45 433.80 171.60)" stroke="#000" stroke-width="0.15" >UL33</text>
<line x1="489.50" y1="162.40" x2="489.50" y2="166.40" stroke="#000" stroke-width="1.3"/>
<text x="492.90" y="171.60" font-family="Liberation Sans, sans-serif" font-size="8.8" font-weight="bold" text-anchor="end" transform="rotate(-45 492.90 171.60)" stroke="#000" stroke-width="0.15" >UL78</text>
<text x="299.80" y="15.20" font-family="Liberation Sans, sans-serif" font-size="14.5" font-weight="bold" text-anchor="start" stroke="#000" stroke-width="0.15" textLength="11.6" lengthAdjust="spacingAndGlyphs">B</text>
<text x="310.3" y="97.9" font-family="Liberation Sans, sans-serif" font-size="9.5" font-weight="bold" text-anchor="middle" textLength="132.6" lengthAdjust="spacingAndGlyphs" transform="rotate(-90 310.3 97.9)">Peak Ca<tspan font-size="6.6" dy="-3.3">2+</tspan><tspan dy="3.3"> concentration (nM)</tspan></text>
<line x1="370.75" y1="296.10" x2="370.75" y2="294.04" stroke="#000" stroke-width="1.4"/>
<line x1="360.35" y1="294.04" x2="381.15" y2="294.04" stroke="#000" stroke-width="1.9"/>
<rect x="351.10" y="296.10" width="39.30" height="86.30" fill="#fff" stroke="#000" stroke-width="1.6"/>
<line x1="429.60" y1="323.06" x2="429.60" y2="321.01" stroke="#000" stroke-width="1.4"/>
<line x1="419.20" y1="321.01" x2="440.00" y2="321.01" stroke="#000" stroke-width="1.9"/>
<rect x="409.70" y="323.06" width="39.80" height="59.34" fill="#000" stroke="#000" stroke-width="1.6"/>
<text x="429.60" y="316.60" font-family="Liberation Sans, sans-serif" font-size="10" font-weight="bold" text-anchor="middle" stroke="#000" stroke-width="0.15" >***</text>
<line x1="488.60" y1="338.75" x2="488.60" y2="336.81" stroke="#000" stroke-width="1.4"/>
<line x1="478.20" y1="336.81" x2="499.00" y2="336.81" stroke="#000" stroke-width="1.9"/>
<rect x="468.70" y="338.75" width="39.80" height="43.65" fill="url(#chk)" stroke="#000" stroke-width="1.6"/>
<text x="488.60" y="331.10" font-family="Liberation Sans, sans-serif" font-size="10" font-weight="bold" text-anchor="middle" stroke="#000" stroke-width="0.15" >***</text>
<line x1="341.00" y1="264.10" x2="341.00" y2="383.20" stroke="#000" stroke-width="1.6"/>
<line x1="340.20" y1="382.40" x2="520.00" y2="382.40" stroke="#000" stroke-width="1.6"/>
<line x1="336.50" y1="382.40" x2="341.00" y2="382.40" stroke="#000" stroke-width="1.3"/>
<text x="336.20" y="385.35" font-family="Liberation Sans, sans-serif" font-size="8.2" font-weight="bold" text-anchor="end" stroke="#000" stroke-width="0.15" >0</text>
<line x1="336.50" y1="353.02" x2="341.00" y2="353.02" stroke="#000" stroke-width="1.3"/>
<text x="336.20" y="355.97" font-family="Liberation Sans, sans-serif" font-size="8.2" font-weight="bold" text-anchor="end" stroke="#000" stroke-width="0.15" >500</text>
<line x1="336.50" y1="323.65" x2="341.00" y2="323.65" stroke="#000" stroke-width="1.3"/>
<text x="336.20" y="326.60" font-family="Liberation Sans, sans-serif" font-size="8.2" font-weight="bold" text-anchor="end" stroke="#000" stroke-width="0.15" >1000</text>
<line x1="336.50" y1="294.27" x2="341.00" y2="294.27" stroke="#000" stroke-width="1.3"/>
<text x="336.20" y="297.22" font-family="Liberation Sans, sans-serif" font-size="8.2" font-weight="bold" text-anchor="end" stroke="#000" stroke-width="0.15" >1500</text>
<line x1="336.50" y1="264.90" x2="341.00" y2="264.90" stroke="#000" stroke-width="1.3"/>
<text x="336.20" y="267.85" font-family="Liberation Sans, sans-serif" font-size="8.2" font-weight="bold" text-anchor="end" stroke="#000" stroke-width="0.15" >2000</text>
<line x1="370.75" y1="382.40" x2="370.75" y2="386.40" stroke="#000" stroke-width="1.3"/>
<text x="374.15" y="391.60" font-family="Liberation Sans, sans-serif" font-size="8.8" font-weight="bold" text-anchor="end" transform="rotate(-45 374.15 391.60)" stroke="#000" stroke-width="0.15" >Mock</text>
<line x1="429.60" y1="382.40" x2="429.60" y2="386.40" stroke="#000" stroke-width="1.3"/>
<text x="433.00" y="391.60" font-family="Liberation Sans, sans-serif" font-size="8.8" font-weight="bold" text-anchor="end" transform="rotate(-45 433.00 391.60)" stroke="#000" stroke-width="0.15" >UL33</text>
<line x1="488.60" y1="382.40" x2="488.60" y2="386.40" stroke="#000" stroke-width="1.3"/>
<text x="492.00" y="391.60" font-family="Liberation Sans, sans-serif" font-size="8.8" font-weight="bold" text-anchor="end" transform="rotate(-45 492.00 391.60)" stroke="#000" stroke-width="0.15" >UL78</text>
<text x="299.30" y="233.40" font-family="Liberation Sans, sans-serif" font-size="14.5" font-weight="bold" text-anchor="start" stroke="#000" stroke-width="0.15" textLength="11.6" lengthAdjust="spacingAndGlyphs">D</text>
<text x="308.8" y="317.3" font-family="Liberation Sans, sans-serif" font-size="9.5" font-weight="bold" text-anchor="middle" textLength="132.6" lengthAdjust="spacingAndGlyphs" transform="rotate(-90 308.8 317.3)">Peak Ca<tspan font-size="6.6" dy="-3.3">2+</tspan><tspan dy="3.3"> concentration (nM)</tspan></text>
</svg></body></html>
